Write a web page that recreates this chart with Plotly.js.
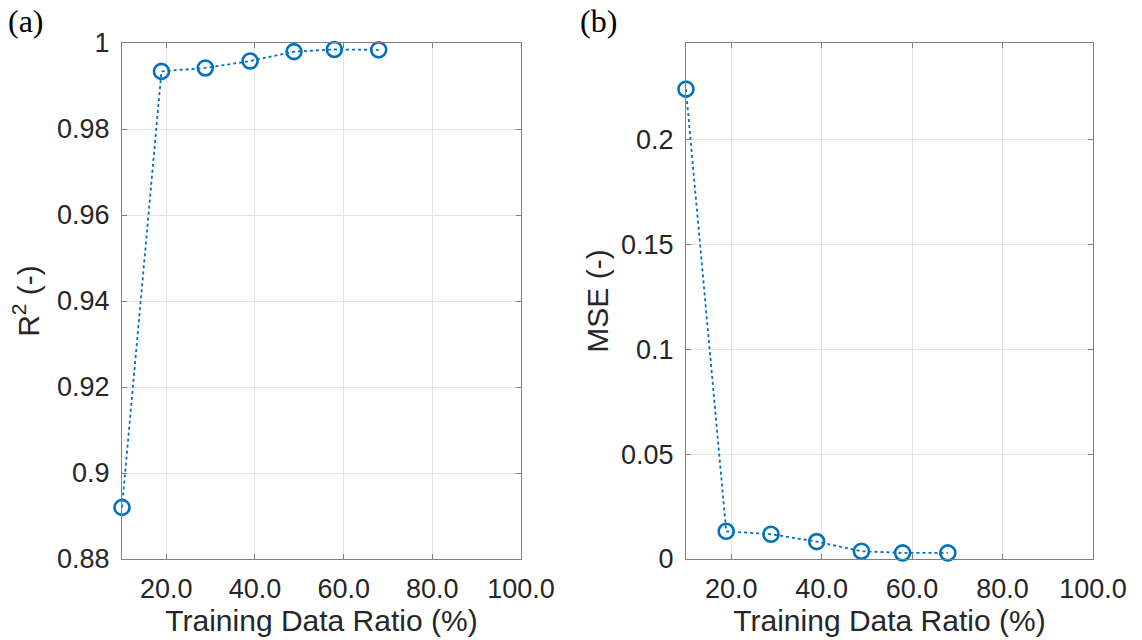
<!DOCTYPE html>
<html>
<head>
<meta charset="utf-8">
<script src="https://cdn.plot.ly/plotly-3.0.1.min.js"></script>
<style>html,body{margin:0;padding:0;background:#fff;}#chart{width:1142px;height:640px;}</style>
</head>
<body>
<div id="chart"></div>
<script>
// Training data ratio (%)
var ratioA = [10, 18.9, 28.8, 38.9, 48.8, 57.9, 67.9];
var r2Values = [0.892, 0.9934, 0.9942, 0.9958, 0.9980, 0.9985, 0.9984];
var ratioB = [10, 18.9, 28.8, 38.9, 48.8, 57.9, 67.9];
var mseValues = [0.224, 0.0132, 0.0118, 0.0083, 0.0037, 0.0029, 0.0029];
var xTickVals = [20, 40, 60, 80, 100];
var xTickText = ['20.0', '40.0', '60.0', '80.0', '100.0'];
var panelLabels = ['(a)', '(b)'];
var xTitle = 'Training Data Ratio (%)';
var yTitleA = 'R<sup>2</sup> (-)';
var yTitleB = 'MSE (-)';

var blue = '#0072BD';
var txt = '#262626';
var axCol = '#808080';
var gridCol = '#e4e4e4';
var sans = '"Liberation Sans", Arial, Helvetica, sans-serif';
var serif = '"Liberation Serif", "Times New Roman", serif';

function trace(x, y, xa, ya) {
  return {
    x: x, y: y, xaxis: xa, yaxis: ya, type: 'scatter', mode: 'lines+markers',
    line: {color: blue, width: 1.8, dash: 'dot'},
    marker: {symbol: 'circle-open', size: 15, color: blue, line: {color: blue, width: 2.6}},
    cliponaxis: false, showlegend: false, hoverinfo: 'skip'
  };
}

function xaxis(domain, anchor) {
  return {
    domain: domain, anchor: anchor, range: [10, 100],
    tickvals: xTickVals, ticktext: xTickText,
    showgrid: true, gridcolor: gridCol, gridwidth: 1,
    showline: true, linecolor: axCol, linewidth: 1, mirror: 'ticks',
    ticks: 'inside', ticklen: 5, tickcolor: axCol,
    zeroline: false, automargin: false, ticklabelstandoff: 6,
    tickfont: {family: sans, size: 27, color: txt},
    title: {text: xTitle, standoff: 6, font: {family: sans, size: 30, color: txt}}
  };
}

function yaxis(domain, anchor, range, dtick, title, standoff) {
  return {
    domain: domain, anchor: anchor, range: range, tick0: 0, dtick: dtick,
    showgrid: true, gridcolor: gridCol, gridwidth: 1,
    showline: true, linecolor: axCol, linewidth: 1, mirror: 'ticks',
    ticks: 'inside', ticklen: 5, tickcolor: axCol,
    zeroline: false, automargin: false, ticklabelstandoff: 6,
    tickfont: {family: sans, size: 27, color: txt},
    title: {text: title, standoff: standoff, font: {family: sans, size: 30, color: txt}}
  };
}

var data = [trace(ratioA, r2Values, 'x', 'y'), trace(ratioB, mseValues, 'x2', 'y2')];

var layout = {
  width: 1142, height: 640,
  margin: {l: 122, r: 49, t: 43, b: 80.5, pad: 0},
  paper_bgcolor: '#fff', plot_bgcolor: '#fff',
  xaxis: xaxis([0, 0.4109], 'y'),
  yaxis: yaxis([0, 1], 'x', [0.88, 1], 0.02, yTitleA, 8),
  xaxis2: xaxis([0.5808, 1], 'y2'),
  yaxis2: yaxis([0, 1], 'x2', [0, 0.246], 0.05, yTitleB, 3),
  annotations: [
    {text: panelLabels[0], xref: 'paper', yref: 'paper', x: (6 - 122) / 971, y: 1 + (43 - 21) / 516.5, xanchor: 'left', yanchor: 'middle', showarrow: false,
     font: {family: serif, size: 32, color: '#000'}},
    {text: panelLabels[1], xref: 'paper', yref: 'paper', x: (578 - 122) / 971, y: 1 + (43 - 21) / 516.5, xanchor: 'left', yanchor: 'middle', showarrow: false,
     font: {family: serif, size: 32, color: '#000'}}
  ]
};

Plotly.newPlot('chart', data, layout, {displayModeBar: false, staticPlot: true});
</script>
</body>
</html>
